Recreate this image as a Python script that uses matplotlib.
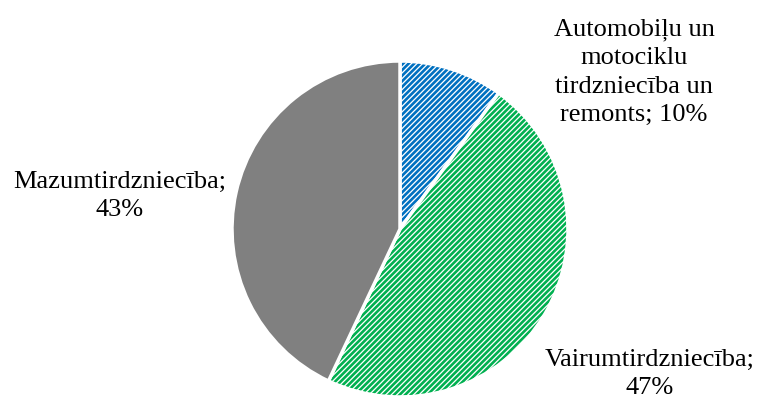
import matplotlib.pyplot as plt
from matplotlib.colors import to_rgba

categories = ["Automobiļu un\nmotociklu\ntirdzniecība un\nremonts", "Vairumtirdzniecība", "Mazumtirdzniecība"]
shares = [10, 47, 43]
colors = ["#0070C0", "#00B050", "#808080"]
hatches = ["//////", "//////", None]

plt.rcParams["font.family"] = ["Liberation Serif", "DejaVu Serif"]
plt.rcParams["hatch.linewidth"] = 1.9

fig = plt.figure(figsize=(7.6, 4.01), dpi=100)
# pie centre ~ (400, 229) px, radius ~ 168 px
cx, cy, r = 400, 229, 168
ax = fig.add_axes([(cx - r) / 760, (401 - cy - r) / 401, 2 * r / 760, 2 * r / 401])

wedges, _ = ax.pie(shares, startangle=90, counterclock=False,
                   colors=["white"] * 3,
                   wedgeprops=dict(linewidth=2.5, edgecolor="white"))
for w, c, h in zip(wedges, colors, hatches):
    if h:
        w.set_facecolor("white")
        w.set_hatch(h)
        w._hatch_color = to_rgba(c)
    else:
        w.set_facecolor(c)
ax.set_xlim(-1, 1)
ax.set_ylim(-1, 1)
ax.set_aspect("equal")

# labels (figure pixel positions)
label_pos = [(634, 72), (650, 374), (120, 196)]
for (x, y), cat, v in zip(label_pos, categories, shares):
    if "\n" in cat:
        txt = f"{cat}; {v}%"
    else:
        txt = f"{cat};\n{v}%"
    fig.text(x / 760, 1 - y / 401, txt, ha="center", va="center",
             fontsize=19, linespacing=1.38, color="black")

fig.savefig("out.png", dpi=100)
